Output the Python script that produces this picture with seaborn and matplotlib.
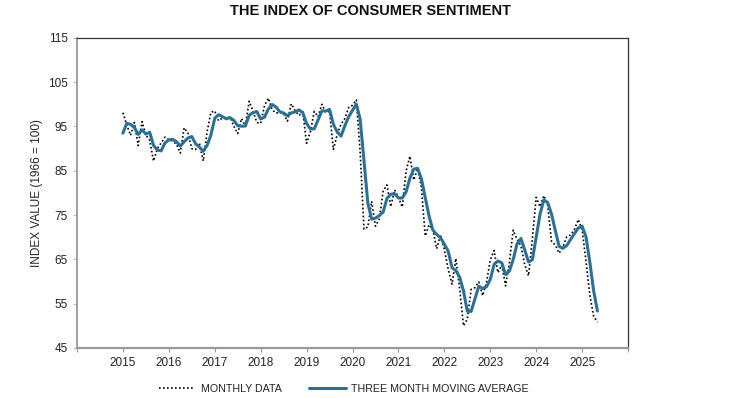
import numpy as np
import pandas as pd
import seaborn as sns
import matplotlib.pyplot as plt

# monthly index values, Nov 2014 .. May 2025 (first two only feed the moving average)
PRIOR_2014 = [88.8, 93.6]
Y2015 = [98.1, 95.4, 93.0, 95.9, 90.7, 96.1, 93.1, 91.9, 87.2, 90.0, 91.3, 92.6]
Y2016 = [92.0, 91.7, 91.0, 89.0, 94.7, 93.5, 90.0, 89.8, 91.2, 87.2, 93.8, 98.2]
Y2017 = [98.5, 96.3, 96.9, 97.0, 97.1, 95.0, 93.4, 96.8, 95.1, 100.7, 98.5, 95.9]
Y2018 = [95.7, 99.7, 101.4, 98.8, 98.0, 98.2, 97.9, 96.2, 100.1, 98.6, 97.5, 98.3]
Y2019 = [91.2, 93.8, 98.4, 97.2, 100.0, 98.2, 98.4, 89.8, 93.2, 95.5, 96.8, 99.3]
Y2020 = [99.8, 101.0, 89.1, 71.8, 72.3, 78.1, 72.5, 74.1, 80.4, 81.8, 76.9, 80.7]
Y2021 = [79.0, 76.8, 84.9, 88.3, 82.9, 85.5, 81.2, 70.3, 72.8, 71.7, 67.4, 70.6]
Y2022 = [67.2, 62.8, 59.4, 65.2, 58.4, 50.0, 51.5, 58.2, 58.6, 59.9, 56.8, 59.7]
Y2023 = [64.9, 67.0, 62.0, 63.7, 59.0, 64.4, 71.6, 69.5, 68.1, 63.8, 61.3, 69.7]
Y2024 = [79.0, 76.9, 79.4, 77.2, 69.1, 68.2, 66.4, 67.9, 70.1, 70.5, 71.8, 74.0]
Y2025 = [71.7, 64.7, 57.0, 52.2, 50.8]

YEAR_TICKS = list(range(2014, 2027))
YEAR_LABELS = [""] + [str(y) for y in range(2015, 2026)] + [""]
Y_TICKS = [45, 55, 65, 75, 85, 95, 105, 115]

BLUE = "#2b7197"
FONT = ["Liberation Sans", "DejaVu Sans"]
TITLE_FONT = ["Liberation Sans Narrow", "Liberation Sans", "DejaVu Sans"]

values = PRIOR_2014 + Y2015 + Y2016 + Y2017 + Y2018 + Y2019 + Y2020 + Y2021 + Y2022 + Y2023 + Y2024 + Y2025
months = np.arange(len(values)) - 2  # 0 = Jan 2015
df = pd.DataFrame({"x": 2015 + months / 12.0, "value": values})
df["ma"] = df["value"].rolling(3).mean()
df = df[df["x"] >= 2015]

sns.set_theme(style="white")
plt.rcParams["font.family"] = FONT

fig = plt.figure(figsize=(7.38, 3.99), dpi=100)
ax = fig.add_axes([0.1043, 0.128, 0.7467, 0.777])

sns.lineplot(data=df, x="x", y="value", ax=ax, color="black", linewidth=1.2,
             linestyle=(0, (1, 1.4)), label="MONTHLY DATA")
sns.lineplot(data=df, x="x", y="ma", ax=ax, color=BLUE, linewidth=2.2,
             label="THREE MONTH MOVING AVERAGE")

ax.set_xlim(2014, 2026)
ax.set_ylim(45, 115)
ax.set_xticks(YEAR_TICKS)
ax.set_xticklabels(YEAR_LABELS)
ax.set_yticks(Y_TICKS)
ax.tick_params(axis="both", labelsize=8.5, colors="#222222", length=3, width=0.8,
               direction="out", bottom=True, left=True)
ax.tick_params(axis="x", color="#999999")
ax.tick_params(axis="y", color="#bbbbbb")

for side in ["top", "right"]:
    ax.spines[side].set_color("#333333")
    ax.spines[side].set_linewidth(0.9)
ax.spines["left"].set_color("#888888")
ax.spines["left"].set_linewidth(1.1)
ax.spines["bottom"].set_color("#999999")
ax.spines["bottom"].set_linewidth(1.6)

ax.set_xlabel("")
ax.set_ylabel("INDEX VALUE (1966 = 100)", fontsize=8.5, color="#222222", labelpad=4)

fig.text(0.502, 0.99, "THE INDEX OF CONSUMER SENTIMENT", ha="center", va="top",
         fontsize=10.5, fontweight="bold", family=TITLE_FONT, color="#111111")

leg = ax.legend(loc="center", bbox_to_anchor=(0.466, 0.025), bbox_transform=fig.transFigure,
                ncol=2, frameon=False, fontsize=7.7, handlelength=3.4, columnspacing=2.6,
                handletextpad=0.5, borderaxespad=0, borderpad=0)
for t in leg.get_texts():
    t.set_color("#222222")

fig.savefig("out.png", dpi=100)
